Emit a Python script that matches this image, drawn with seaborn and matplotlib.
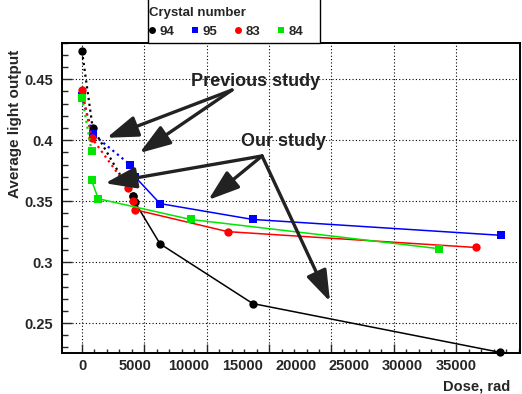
import numpy as np
import pandas as pd
import seaborn as sns
import matplotlib.pyplot as plt
from matplotlib.lines import Line2D
from matplotlib.patches import Rectangle
from matplotlib.ticker import MultipleLocator, FixedLocator

# Crystal numbers
crystals = ['94', '95', '83', '84']

# Previous study (dotted lines)
dose_94_prev = [0, 1000, 4740]
light_94_prev = [0.473, 0.410, 0.354]
dose_95_prev = [0, 1000, 4490]
light_95_prev = [0.436, 0.405, 0.380]
dose_83_prev = [0, 900, 4330]
light_83_prev = [0.441, 0.402, 0.361]
dose_84_prev = [0, 900]
light_84_prev = [0.435, 0.391]

# Our study (solid lines)
dose_94_our = [4740, 4960, 7300, 15970, 39100]
light_94_our = [0.354, 0.349, 0.315, 0.266, 0.226]
dose_95_our = [4490, 4960, 7300, 15970, 39170]
light_95_our = [0.380, 0.370, 0.348, 0.335, 0.322]
dose_83_our = [4740, 4960, 13630, 36860]
light_83_our = [0.350, 0.343, 0.325, 0.312]
dose_84_our = [900, 1520, 10170, 33420]
light_84_our = [0.367, 0.352, 0.335, 0.311]

x_labels = [0, 5000, 10000, 15000, 20000, 25000, 30000, 35000]

colors = {'94': 'black', '95': '#0000ff', '83': '#ff0000', '84': '#00e600'}
markers = {'94': 'o', '95': 's', '83': 'o', '84': 's'}

rows = []
series = {
    ('94', 'prev'): (dose_94_prev, light_94_prev),
    ('95', 'prev'): (dose_95_prev, light_95_prev),
    ('83', 'prev'): (dose_83_prev, light_83_prev),
    ('84', 'prev'): (dose_84_prev, light_84_prev),
    ('94', 'our'): (dose_94_our, light_94_our),
    ('95', 'our'): (dose_95_our, light_95_our),
    ('83', 'our'): (dose_83_our, light_83_our),
    ('84', 'our'): (dose_84_our, light_84_our),
}
for (cr, st), (xs, ys) in series.items():
    for x, y in zip(xs, ys):
        rows.append({'crystal': cr, 'study': st, 'dose': x, 'light': y})
df = pd.DataFrame(rows)

sns.set_style('ticks')
plt.rcParams['font.family'] = ['Liberation Sans', 'DejaVu Sans']
plt.rcParams['font.weight'] = 'bold'
plt.rcParams['axes.labelweight'] = 'bold'

fig = plt.figure(figsize=(5.22, 3.94), dpi=100)
ax = fig.add_axes([0.1182, 0.1033, 0.878, 0.7883])

for (cr, st), grp in df.groupby(['crystal', 'study'], sort=False):
    sns.lineplot(data=grp, x='dose', y='light', ax=ax, sort=False, estimator=None,
                 color=colors[cr], marker=markers[cr], markersize=6,
                 markeredgewidth=0, linestyle=':' if st == 'prev' else '-',
                 linewidth=1.6 if st == 'prev' else 1.1, clip_on=False, zorder=3)

ax.set_xlim(-1900, 40970)
ax.set_ylim(0.2252, 0.480)

# grid / tick marks (6 intervals across the labelled range)
grid_x = np.linspace(0, 35000, 7)
ax.set_xticks(grid_x)
ax.xaxis.set_minor_locator(FixedLocator(np.arange(0, 41000, 35000 / 30)))
ax.tick_params(axis='x', which='major', direction='in', length=6.5, width=1,
               labelbottom=False, top=False)
ax.tick_params(axis='x', which='minor', direction='in', length=3, width=1, top=False)

ax.set_yticks([0.25, 0.30, 0.35, 0.40, 0.45])
ax.set_yticklabels(['0.25', '0.3', '0.35', '0.4', '0.45'], fontweight='bold')
ax.yaxis.set_minor_locator(MultipleLocator(0.01))
ax.tick_params(axis='y', which='major', direction='in', length=7, width=1,
               labelsize=10.5, pad=6, right=False)
ax.tick_params(axis='y', which='minor', direction='in', length=4, width=1, right=False)
ax.grid(True, which='major', color='black', linestyle=(0, (1, 2)), linewidth=0.8)

sec = ax.secondary_xaxis('bottom')
sec.set_xticks(x_labels)
sec.set_xticklabels([str(v) for v in x_labels], fontweight='bold')
sec.tick_params(length=0, labelsize=10.5, pad=4)
sec.spines['bottom'].set_visible(False)

for s in ax.spines.values():
    s.set_color('black')
    s.set_linewidth(1.4)

ax.set_xlabel('Dose, rad', fontsize=10.5, loc='right', fontweight='bold')
ax.xaxis.set_label_coords(0.978, -0.085)
ax.set_ylabel('Average light output', fontsize=11, loc='top', fontweight='bold')
ax.yaxis.set_label_coords(-0.087, 0.977)

# annotations
arrow_kw = dict(arrowstyle='-|>,head_length=1.9,head_width=0.65', color='#222222',
                lw=2.4, mutation_scale=10, shrinkA=0, shrinkB=0)
for tip in [(2311, 0.4020), (5379, 0.3895)]:
    ax.annotate('', xy=tip, xytext=(14030, 0.4412), arrowprops=arrow_kw, zorder=5)
for tip in [(2152, 0.3647), (11815, 0.3510), (23200, 0.2676)]:
    ax.annotate('', xy=tip, xytext=(16840, 0.3871), arrowprops=arrow_kw, zorder=5)
ax.text(16280, 0.4482, 'Previous study', fontsize=13, fontweight='bold',
        color='#222222', ha='center', va='center', zorder=6)
ax.text(18850, 0.399, 'Our study', fontsize=13, fontweight='bold',
        color='#222222', ha='center', va='center', zorder=6)

# legend box, open to the top edge
fig.patches.append(Rectangle((148 / 522, (394 - 42.7) / 394), (320 - 148) / 522, 0.2,
                             transform=fig.transFigure, facecolor='white',
                             edgecolor='black', linewidth=1.0, zorder=1))
handles = [Line2D([], [], color=colors[c], marker=markers[c], linestyle='none',
                  markersize=5, markeredgewidth=0) for c in crystals]
leg = fig.legend(handles, crystals, title='Crystal number', ncol=4,
                 loc='lower left', bbox_to_anchor=(144 / 522, (394 - 42.7) / 394),
                 borderaxespad=0, fontsize=9.5, title_fontsize=9.5,
                 handlelength=0.5, handletextpad=0.3, columnspacing=1.35,
                 borderpad=0.35, frameon=False, alignment='left')
leg.get_title().set_fontweight('bold')
for t in leg.get_texts():
    t.set_fontweight('bold')

fig.savefig('out.png', dpi=100)
